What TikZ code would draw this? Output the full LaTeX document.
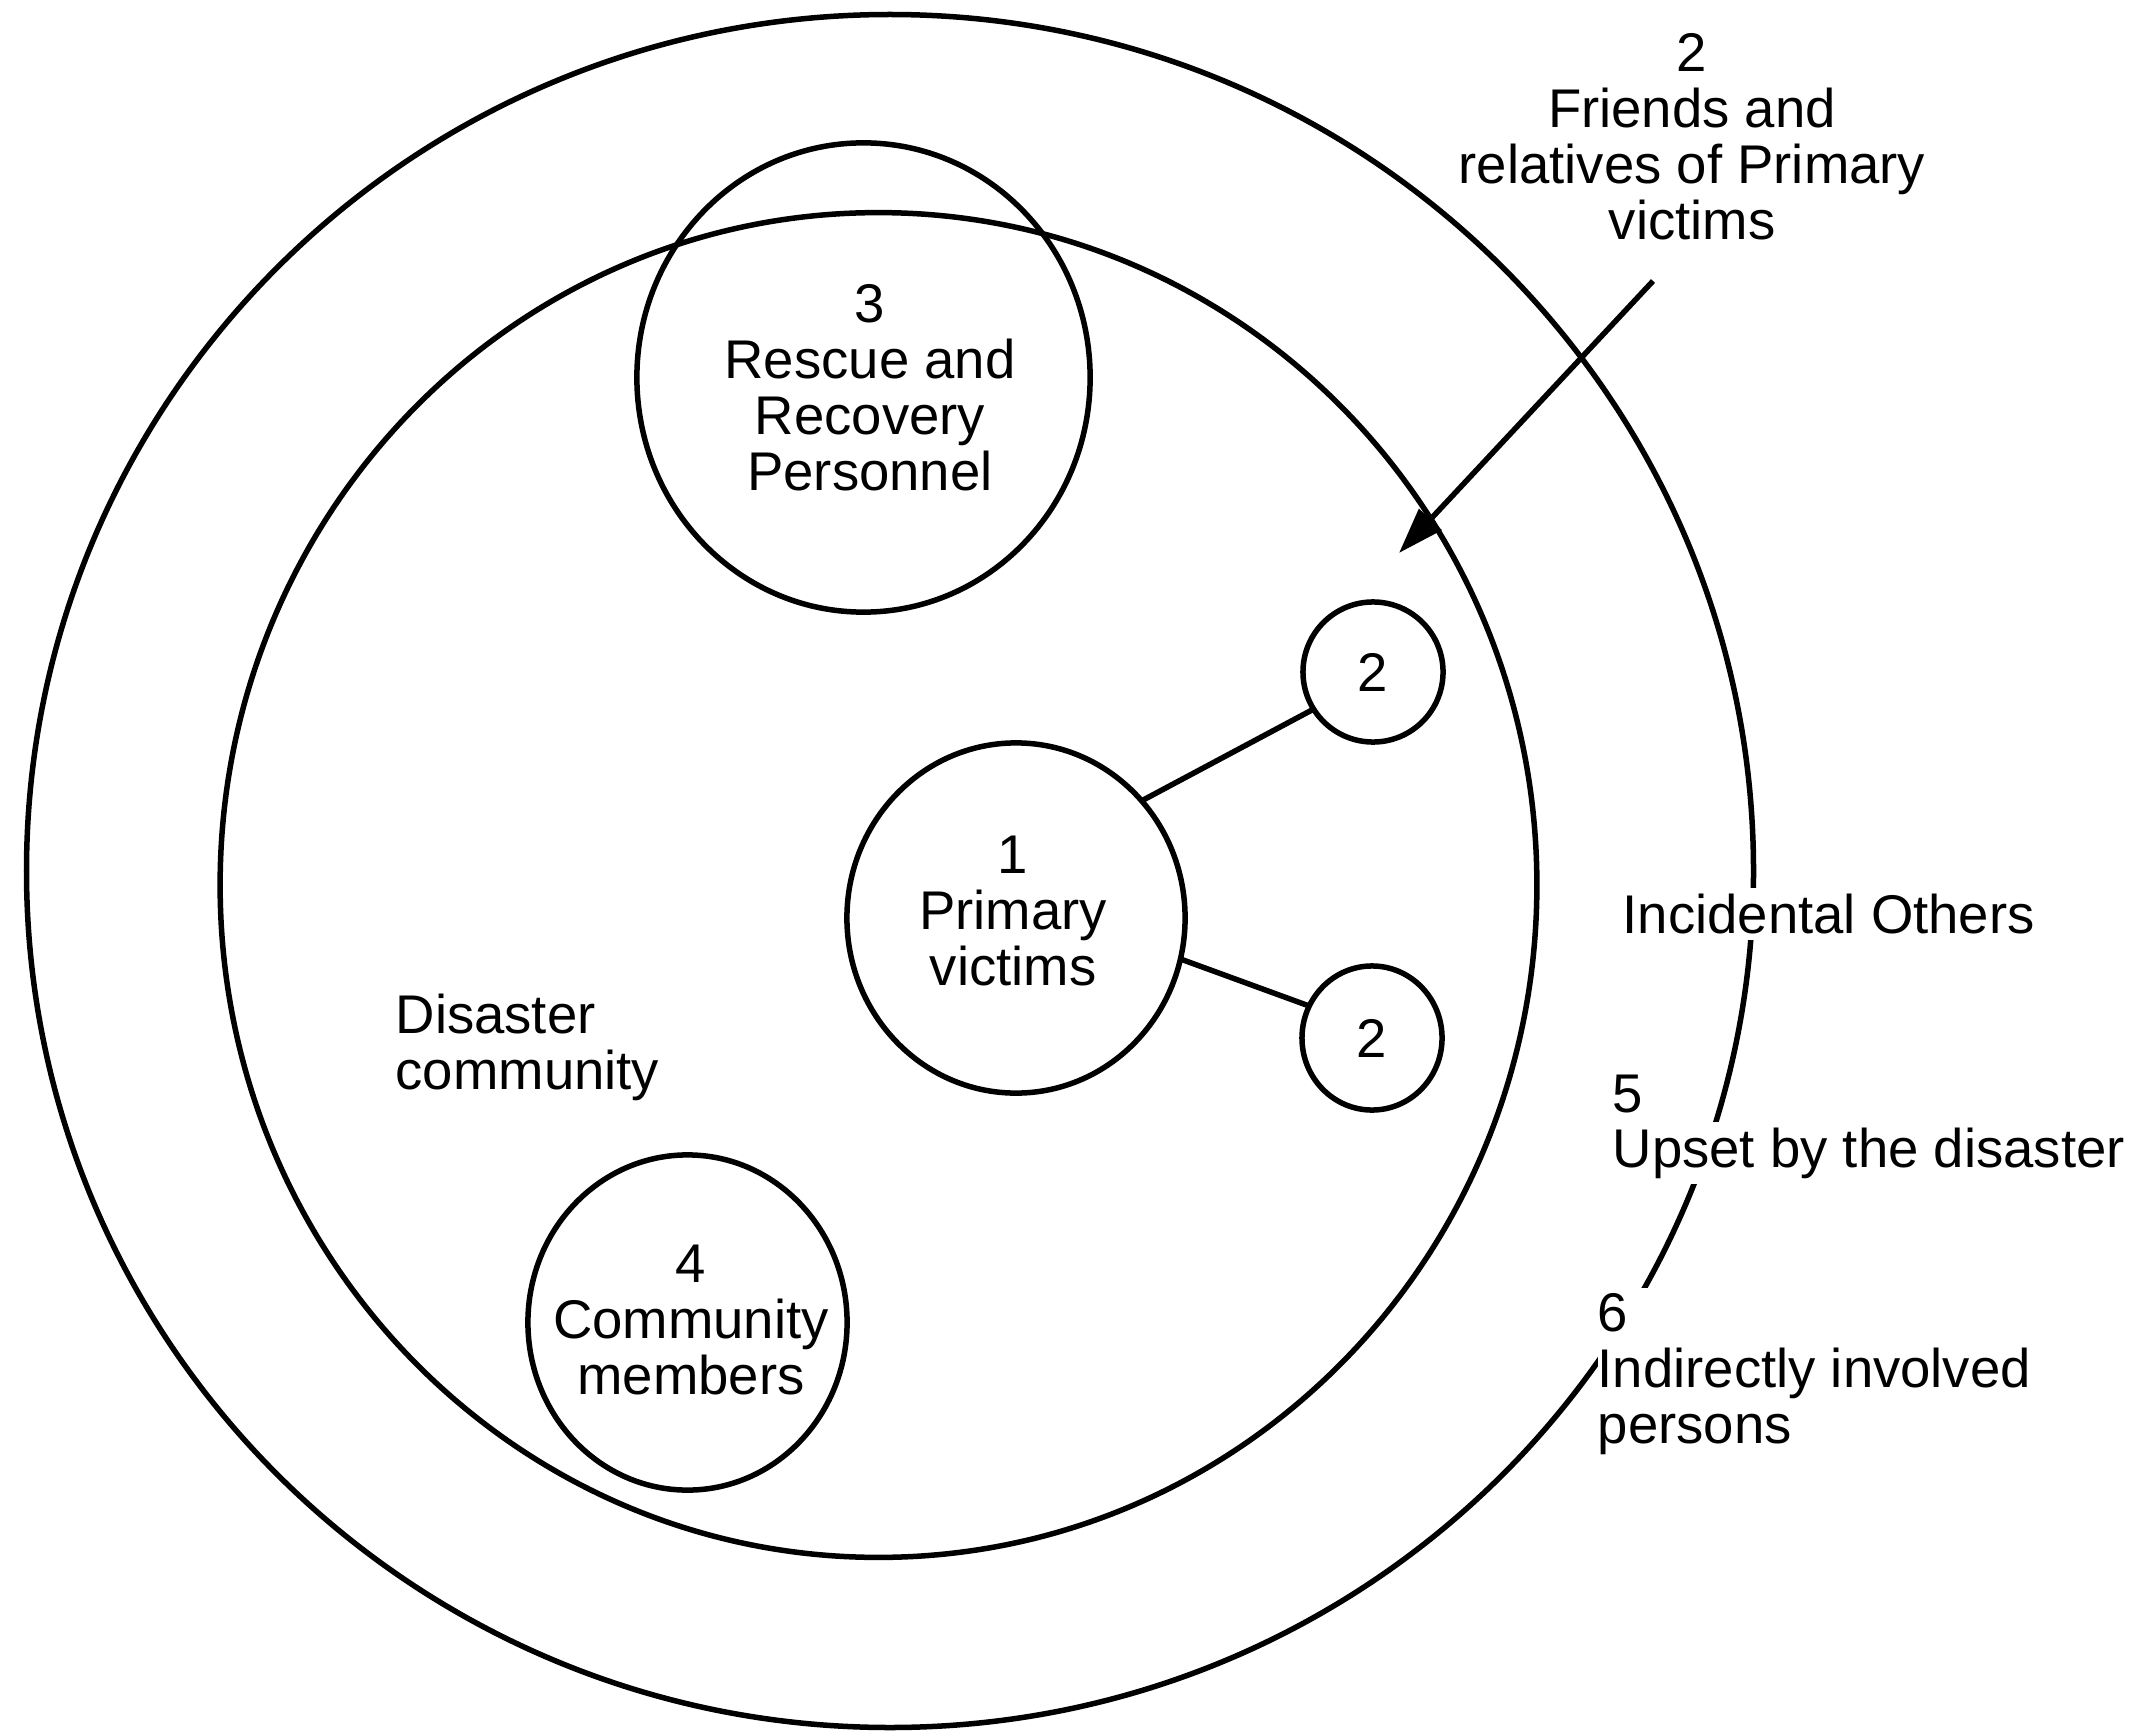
\documentclass[tikz,border=0pt]{standalone}
\usepackage{fontspec}
\setmainfont{Liberation Sans}
\usetikzlibrary{shapes.geometric,arrows.meta}
\newcommand\lblfont{\fontsize{15.5pt}{15.9pt}\selectfont}
\begin{document}
\begin{tikzpicture}[x=0.01cm,y=-0.01cm,
  ring/.style={draw, ellipse, inner sep=0pt, outer sep=0pt, line width=0.055cm},
  txt/.style={font=\lblfont, align=center, inner sep=0pt},
  ltxt/.style={font=\lblfont, align=left, inner sep=0pt},
  masked/.style={font=\lblfont, align=left, fill=white, inner xsep=0.02cm, inner ysep=0.06cm},
  link/.style={line width=0.055cm},
  pointer/.style={line width=0.055cm, -{Triangle[length=0.46cm,width=0.30cm]}}
]
\useasboundingbox (0,0) rectangle (2137,1731);
% circles
\node[ring, minimum width=17.26cm, minimum height=17.12cm] (outer) at (890,871) {};
\node[ring, minimum width=13.16cm, minimum height=13.44cm] (inner) at (878.5,885) {};
\node[ring, minimum width=4.53cm, minimum height=4.69cm] (rescue) at (863.5,377.5) {};
\node[ring, fill=white, minimum width=3.19cm, minimum height=3.35cm] (comm) at (687.5,1322.5) {};
\node[ring, minimum width=3.38cm, minimum height=3.50cm] (primary) at (1016,918) {};
\node[ring, font=\lblfont, minimum width=1.40cm, minimum height=1.40cm] (fa) at (1373,672) {2};
\node[ring, font=\lblfont, minimum width=1.40cm, minimum height=1.44cm] (fb) at (1372,1038) {2};
% texts inside
\node[txt] (rescuetxt) at (870,387.5) {3\\Rescue and\\Recovery\\Personnel};
\node[txt] (primarytxt) at (1013,911) {1\\Primary\\victims};
\node[txt] (commtxt) at (691,1320) {4\\Community\\members};
\node[ltxt, anchor=north west] (disaster) at (395,993) {Disaster\\community};
% outside labels
\node[txt] (friendstxt) at (1692,136.5) {2\\Friends and\\relatives of Primary\\victims};
\node[masked, anchor=base west] (incidental) at (1620,933) {Incidental Others};
\node[masked, anchor=base west] (five) at (1610,1112) {5};
\node[masked, anchor=base west] (upset) at (1610,1167) {Upset by the disaster};
\node[masked, anchor=north west, inner xsep=0pt] (six) at (1597,1287) {6\\Indirectly involved\\persons};
% connectors
\draw[link] (primary.43) -- (fa.212);
\draw[link] (primary.-14) -- (fb.153);
\coordinate (arrowstart) at (1653,281);
\coordinate (arrowtip) at (1399,553);
\draw[pointer] (arrowstart) -- (arrowtip);
\end{tikzpicture}
\end{document}
